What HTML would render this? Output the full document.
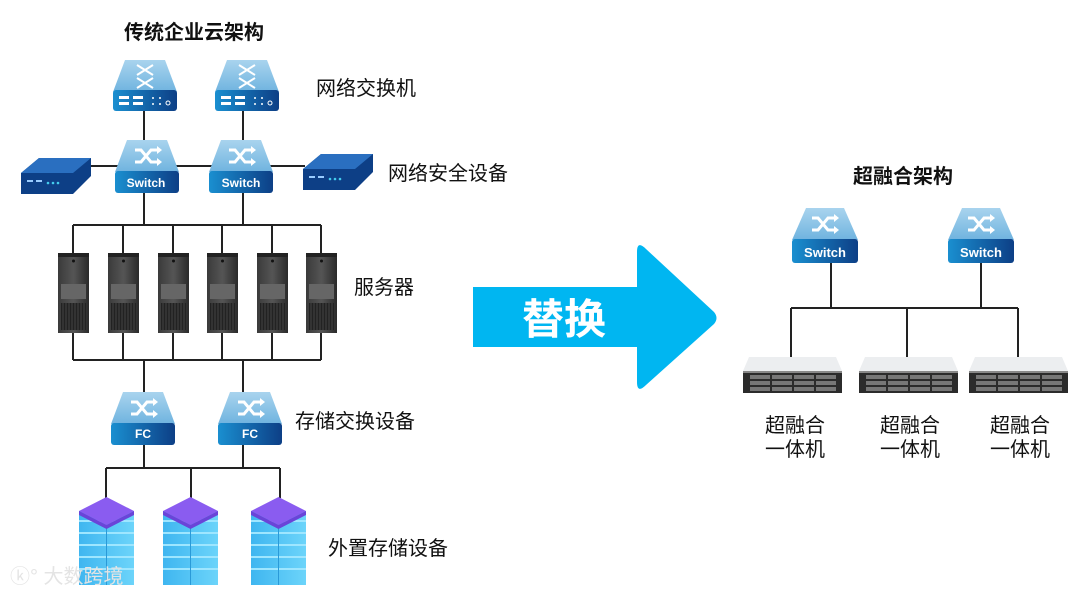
<!DOCTYPE html>
<html><head><meta charset="utf-8"><style>
html,body{margin:0;padding:0;background:#fff;width:1080px;height:595px;overflow:hidden}
svg text{font-family:"Liberation Sans","Noto Sans CJK SC",sans-serif}
</style></head><body>
<svg width="1080" height="595" viewBox="0 0 1080 595" xmlns="http://www.w3.org/2000/svg">
<defs>
<linearGradient id="top" x1="0" y1="0" x2="0" y2="1"><stop offset="0" stop-color="#a9d4ee"/><stop offset="1" stop-color="#6fb3df"/></linearGradient>
<linearGradient id="band" x1="0" y1="0" x2="1" y2="0"><stop offset="0" stop-color="#1a8fd0"/><stop offset="1" stop-color="#0d3f86"/></linearGradient>
<linearGradient id="srv" x1="0" y1="0" x2="1" y2="0"><stop offset="0" stop-color="#3a3a3a"/><stop offset=".5" stop-color="#555"/><stop offset="1" stop-color="#2a2a2a"/></linearGradient>
<linearGradient id="cube" x1="0" y1="0" x2="1" y2="0"><stop offset="0" stop-color="#3fb6f0"/><stop offset="1" stop-color="#6cd4fa"/></linearGradient>
<g id="sw">
 <path d="M12,0 H52 L64,32 H0 Z" fill="url(#top)"/>
 <rect x="0" y="31" width="64" height="22" rx="3" fill="url(#band)"/>
 <path d="M20,10 h6 l10,12 h6 M20,22 h6 l10,-12 h6" stroke="#fff" stroke-width="3" fill="none"/>
 <path d="M42,6 l5,4 -5,4 Z M42,18 l5,4 -5,4 Z" fill="#fff"/>
</g>
<g id="rsw">
 <path d="M14,0 H52 L66,32 H0 Z" fill="url(#top)"/>
 <rect x="0" y="31" width="66" height="24" rx="3" fill="url(#band)"/>
 <path d="M20,10 h6 l10,12 h6 M20,22 h6 l10,-12 h6" stroke="#fff" stroke-width="3" fill="none"/>
 <path d="M42,6 l5,4 -5,4 Z M42,18 l5,4 -5,4 Z" fill="#fff"/>
</g>
<g id="core">
 <path d="M12,0 H52 L64,32 H0 Z" fill="url(#top)"/>
 <rect x="0" y="30" width="64" height="21" rx="3" fill="url(#band)"/>
 <path d="M24,5 l16,10 M24,15 l16,-10 M24,18 l16,10 M24,28 l16,-10" stroke="#fff" stroke-width="2"/>
 <rect x="6" y="36" width="10" height="3" fill="#fff"/><rect x="6" y="42" width="10" height="3" fill="#fff"/>
 <rect x="20" y="36" width="10" height="3" fill="#fff"/><rect x="20" y="42" width="10" height="3" fill="#fff"/>
 <circle cx="40" cy="38" r="1" fill="#fff"/><circle cx="40" cy="44" r="1" fill="#fff"/><circle cx="47" cy="38" r="1" fill="#fff"/><circle cx="47" cy="44" r="1" fill="#fff"/>
 <circle cx="55" cy="43" r="2" stroke="#fff" fill="none"/>
</g>
<g id="sec">
 <path d="M0,15 L18,0 H70 L70,18 L52,36 H0 Z" fill="#0d3f86"/>
 <path d="M0,15 L18,0 H70 L52,15 Z" fill="#2a6fc0"/>
 <rect x="6" y="22" width="6" height="2" fill="#9cf"/><rect x="15" y="22" width="6" height="2" fill="#9cf"/>
 <circle cx="27" cy="25" r="1.3" fill="#4ce"/><circle cx="32" cy="25" r="1.3" fill="#4ce"/><circle cx="37" cy="25" r="1.3" fill="#4ce"/>
</g>
<g id="tower">
 <rect x="0" y="0" width="31" height="80" fill="url(#srv)"/>
 <rect x="0" y="0" width="31" height="4" fill="#222"/>
 <circle cx="15.5" cy="8" r="1.5" fill="#111"/>
 <rect x="3" y="31" width="25" height="15" fill="#666"/>
 <rect x="3" y="50" width="25" height="27" fill="#222"/>
 <path d="M5,50v27M8,50v27M11,50v27M14,50v27M17,50v27M20,50v27M23,50v27M26,50v27" stroke="#444" stroke-width="1"/>
</g>
<g id="cubeg">
 <rect x="0" y="14" width="55" height="74" fill="url(#cube)"/>
 <path d="M0,24 H55 M0,36 H55 M0,48 H55 M0,60 H55 M0,72 H55" stroke="#9ee6ff" stroke-width="2"/>
 <path d="M27.5,14 V88" stroke="#2a9ad8" stroke-width="1"/>
 <path d="M0,14 L27.5,0 L55,14 L27.5,28 Z" fill="#8a5cf0"/>
 <path d="M0,14 L27.5,28 L55,14 L55,18 L27.5,32 L0,18Z" fill="#6a44d8"/>
</g>
<g id="rack">
 <path d="M6,0 H93 L99,14 H0 Z" fill="#eceef0"/>
 <rect x="0" y="14" width="99" height="22" fill="#2b2b2b"/>
 <rect x="0" y="14" width="99" height="2" fill="#888"/>
 <g fill="#777"><rect x="7" y="18" width="20" height="4"/><rect x="29" y="18" width="20" height="4"/><rect x="51" y="18" width="20" height="4"/><rect x="73" y="18" width="20" height="4"/>
 <rect x="7" y="24" width="20" height="4"/><rect x="29" y="24" width="20" height="4"/><rect x="51" y="24" width="20" height="4"/><rect x="73" y="24" width="20" height="4"/>
 <rect x="7" y="30" width="20" height="4"/><rect x="29" y="30" width="20" height="4"/><rect x="51" y="30" width="20" height="4"/><rect x="73" y="30" width="20" height="4"/></g>
</g>
</defs>

<g stroke="#222" stroke-width="2" fill="none">
 <path d="M144,111V140 M243,111V140"/>
 <path d="M90,166H305"/>
 <path d="M144,193V225 M243,193V225 M73,225H321"/>
 <path d="M73,225V253 M123,225V253 M173,225V253 M222,225V253 M272,225V253 M321,225V253"/>
 <path d="M73,333V360 M123,333V360 M173,333V360 M222,333V360 M272,333V360 M321,333V360 M73,360H321"/>
 <path d="M144,360V393 M243,360V393"/>
 <path d="M144,443V468 M243,443V468 M106,468H280 M106,468V498 M191,468V498 M280,468V498"/>
 <path d="M831,263V308 M981,263V308 M791,308H1018 M791,308V357 M907,308V357 M1018,308V357"/>
</g>

<use href="#core" x="113" y="60"/><use href="#core" x="215" y="60"/>
<use href="#sec" x="21" y="158"/><use href="#sec" x="303" y="154"/>
<use href="#sw" x="115" y="140"/><use href="#sw" x="209" y="140"/>
<text x="146" y="187" fill="#fff" font-size="12" font-weight="bold" text-anchor="middle">Switch</text>
<text x="241" y="187" fill="#fff" font-size="12" font-weight="bold" text-anchor="middle">Switch</text>
<use href="#tower" x="58" y="253"/><use href="#tower" x="108" y="253"/><use href="#tower" x="158" y="253"/>
<use href="#tower" x="207" y="253"/><use href="#tower" x="257" y="253"/><use href="#tower" x="306" y="253"/>
<use href="#sw" x="111" y="392"/><use href="#sw" x="218" y="392"/>
<text x="143" y="438" fill="#fff" font-size="12" font-weight="bold" text-anchor="middle">FC</text>
<text x="250" y="438" fill="#fff" font-size="12" font-weight="bold" text-anchor="middle">FC</text>
<use href="#cubeg" x="79" y="497"/><use href="#cubeg" x="163" y="497"/><use href="#cubeg" x="251" y="497"/>

<g font-size="20" fill="#111">
<text x="194" y="39" text-anchor="middle" font-weight="bold">传统企业云架构</text>
<text x="316" y="95">网络交换机</text>
<text x="388" y="180">网络安全设备</text>
<text x="354" y="294">服务器</text>
<text x="295" y="428">存储交换设备</text>
<text x="328" y="555">外置存储设备</text>
<text x="903" y="183" text-anchor="middle" font-weight="bold">超融合架构</text>
<text x="795" y="432" text-anchor="middle">超融合</text><text x="795" y="456" text-anchor="middle">一体机</text>
<text x="910" y="432" text-anchor="middle">超融合</text><text x="910" y="456" text-anchor="middle">一体机</text>
<text x="1020" y="432" text-anchor="middle">超融合</text><text x="1020" y="456" text-anchor="middle">一体机</text>
</g>

<path d="M473,287 H637 V252 Q637,240 646,249 L714,312 Q719,318 714,324 L646,385 Q637,394 637,382 V347 H473 Z" fill="#00b6f1"/>
<text x="564" y="334" fill="#fff" font-size="42" font-weight="bold" text-anchor="middle">替换</text>

<use href="#rsw" x="792" y="208"/><use href="#rsw" x="948" y="208"/>
<text x="825" y="257" fill="#fff" font-size="13" font-weight="bold" text-anchor="middle">Switch</text>
<text x="981" y="257" fill="#fff" font-size="13" font-weight="bold" text-anchor="middle">Switch</text>
<use href="#rack" x="743" y="357"/><use href="#rack" x="859" y="357"/><use href="#rack" x="969" y="357"/>

<text x="10" y="583" font-size="20" fill="#e4e4e4">ⓚ° 大数跨境</text>
</svg>
</body></html>
